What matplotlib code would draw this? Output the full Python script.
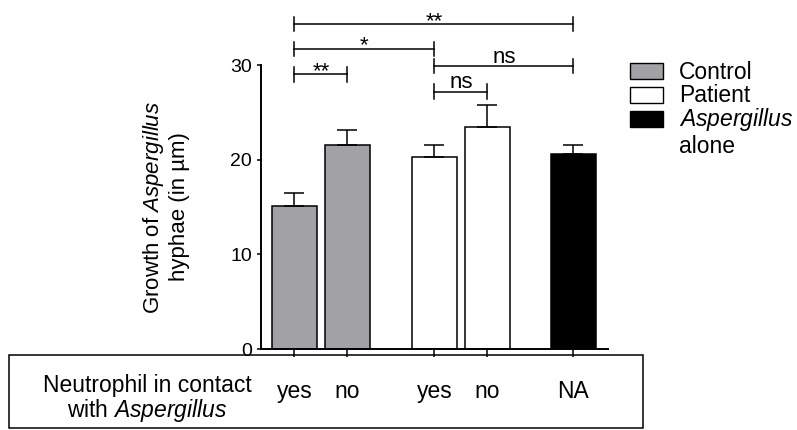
import numpy as np
import matplotlib
matplotlib.use('Agg')
from matplotlib import pyplot as plt
from matplotlib.patches import Rectangle

plt.rcParams['font.family'] = ['Liberation Sans', 'DejaVu Sans']
plt.rcParams['mathtext.fontset'] = 'custom'
plt.rcParams['mathtext.it'] = 'Liberation Sans:italic'
plt.rcParams['mathtext.rm'] = 'Liberation Sans'

# data
contact = ['yes', 'no', 'yes', 'no', 'NA']
means = [15.1, 21.6, 20.3, 23.4, 20.6]
sems = [1.4, 1.55, 1.25, 2.4, 1.0]
xpos = [0, 1, 2.64, 3.64, 5.26]
bar_colors = ['#a2a2a6', '#a2a2a6', 'white', 'white', 'black']

legend_labels = ['Control', 'Patient', '$\\mathit{Aspergillus}$']
legend_colors = ['#a2a2a6', 'white', 'black']

# significance brackets: bar i -> bar j at height y
sig_i = [0, 0, 0, 2, 2]
sig_j = [1, 2, 4, 4, 3]
sig_y = [29.0, 31.7, 34.3, 29.9, 27.2]
sig_txt = ['**', '*', '**', 'ns', 'ns']

W, H = 797, 430
def fx(px): return px / W
def fy(py): return 1 - py / H

fig = plt.figure(figsize=(W / 100, H / 100), dpi=100)
ax = fig.add_axes([fx(261), fy(349), fx(608) - fx(261), fy(65) - fy(349)])

ax.bar(xpos, means, width=0.85, color=bar_colors, edgecolor='black', linewidth=1.1, zorder=2)
ax.errorbar(xpos, means, yerr=[np.zeros(len(means)), sems], fmt='none', ecolor='black',
            elinewidth=1.1, capsize=7.5, capthick=1.1, zorder=3)

ax.set_xlim(-0.632, 5.915)
ax.set_ylim(0, 30)
ax.set_yticks([0, 10, 20, 30])
ax.set_xticks(xpos)
ax.set_xticklabels(contact)
for s in ['top', 'right']:
    ax.spines[s].set_visible(False)
ax.spines['left'].set_bounds(0, 30)
ax.spines['left'].set_linewidth(1.4)
ax.spines['bottom'].set_linewidth(1.4)
ax.tick_params(axis='x', length=6, width=1.1, pad=16, labelsize=16.5)
ax.tick_params(axis='y', length=3, width=1.1, pad=3.5, labelsize=14)

ax.set_ylabel('Growth of $\\mathit{Aspergillus}$\nhyphae (in µm)', fontsize=16)
ax.yaxis.set_label_coords(-0.204, 0.5)

# brackets
hh = 0.75
for i, j, y, t in zip(sig_i, sig_j, sig_y, sig_txt):
    x1, x2 = xpos[i], xpos[j]
    ax.plot([x1, x2], [y, y], color='black', lw=1.1, clip_on=False)
    ax.plot([x1, x1], [y - hh, y + hh], color='black', lw=1.1, clip_on=False)
    ax.plot([x2, x2], [y - hh, y + hh], color='black', lw=1.1, clip_on=False)
    off = 2.2 if t == 'ns' else -2.0
    ax.annotate(t, xy=((x1 + x2) / 2, y), xytext=(0, off), textcoords='offset points',
                ha='center', va='baseline', fontsize=16, annotation_clip=False)

# legend
tops = [63, 87, 111]
bases = [79, 102, 126]
for lab, c, t, b in zip(legend_labels, legend_colors, tops, bases):
    fig.add_artist(Rectangle((fx(630), fy(t + 16)), fx(663) - fx(630), fy(t) - fy(t + 16),
                             transform=fig.transFigure, facecolor=c, edgecolor='black', lw=1.0))
    fig.text(fx(679), fy(b), lab, fontsize=16.5, va='baseline', ha='left')
fig.text(fx(679), fy(153), 'alone', fontsize=16.5, va='baseline', ha='left')

# table box below the axis
fig.add_artist(Rectangle((fx(9), fy(428)), fx(643) - fx(9), fy(355) - fy(428),
                         transform=fig.transFigure, fill=False, edgecolor='black', lw=1.1))
fig.text(fx(147), fy(392), 'Neutrophil in contact', fontsize=16.5, ha='center', va='baseline')
fig.text(fx(147), fy(417), 'with $\\mathit{Aspergillus}$', fontsize=16.5, ha='center', va='baseline')

fig.savefig('out.png', dpi=100)
